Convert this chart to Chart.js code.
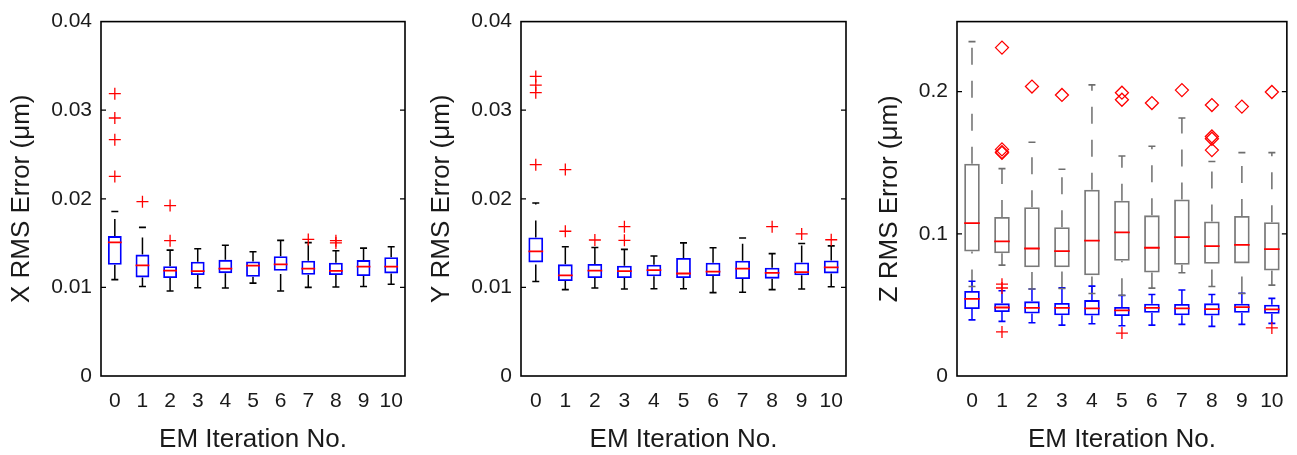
<!DOCTYPE html>
<html>
<head>
<meta charset="utf-8">
<script src="https://cdn.jsdelivr.net/npm/chart.js@4"></script>
<style>
  body { margin: 0; background: #fff; width: 1297px; height: 455px; position: relative; overflow: hidden; }
  canvas { position: absolute; top: 0; }
</style>
</head>
<body>
<canvas id="xChart" width="420" height="455" style="left:0px"></canvas>
<canvas id="yChart" width="438" height="455" style="left:422px"></canvas>
<canvas id="zChart" width="435" height="455" style="left:862px"></canvas>
<script>
// ==========================
// DATA
// ==========================

const iterations = ["0", "1", "2", "3", "4", "5", "6", "7", "8", "9", "10"];

// X RMS error
const xLow  = [0.01088, 0.01011, 0.0096, 0.00996, 0.00993, 0.01048, 0.0096, 0.0100, 0.01004, 0.01011, 0.01036];
const xQ1   = [0.01256, 0.01113, 0.01106, 0.01139, 0.01161, 0.01121, 0.01187, 0.01143, 0.01139, 0.01128, 0.01158];
const xMed  = [0.01509, 0.01249, 0.0119, 0.01183, 0.01212, 0.01245, 0.0126, 0.01212, 0.01187, 0.01234, 0.01234];
const xQ3   = [0.01579, 0.0137, 0.01238, 0.01289, 0.01311, 0.01293, 0.01352, 0.0130, 0.01278, 0.01308, 0.01341];
const xHigh = [0.01857, 0.01678, 0.01421, 0.01436, 0.01476, 0.01403, 0.01531, 0.01505, 0.01414, 0.01443, 0.01458];
const xOutliers = [[0.03187, 0.02912, 0.02667, 0.02253], [0.01967], [0.01923, 0.01527], [], [], [], [], [0.01542], [0.01527, 0.01502], [], []];

// Y RMS error
const yLow  = [0.01066, 0.00975, 0.00993, 0.00982, 0.00985, 0.00985, 0.00941, 0.00945, 0.00975, 0.00982, 0.01007];
const yQ1   = [0.01282, 0.01073, 0.01106, 0.01106, 0.01125, 0.01106, 0.01128, 0.01095, 0.01099, 0.01136, 0.01158];
const yMed  = [0.01407, 0.01136, 0.0119, 0.01183, 0.01194, 0.01157, 0.01179, 0.01212, 0.01165, 0.01172, 0.01227];
const yQ3   = [0.01564, 0.0126, 0.01264, 0.01245, 0.01256, 0.01333, 0.01278, 0.0130, 0.01223, 0.01282, 0.01304];
const yHigh = [0.01953, 0.01458, 0.0145, 0.01429, 0.01355, 0.01502, 0.01447, 0.01557, 0.01381, 0.01495, 0.01469];
const yOutliers = [[0.03381, 0.03282, 0.03198, 0.02385], [0.0233, 0.01634], [0.01535], [0.01685, 0.01531], [], [], [], [], [0.01685], [0.01604], [0.01538]];

// Z RMS error, grey boxes
const zGreyLow  = [0.063, 0.078, 0.0612, 0.0615, 0.058, 0.0568, 0.0618, 0.0726, 0.063, 0.058, 0.0639];
const zGreyQ1   = [0.0875, 0.0863, 0.0765, 0.0765, 0.0708, 0.081, 0.0728, 0.0783, 0.079, 0.0792, 0.0742];
const zGreyMed  = [0.1075, 0.0947, 0.0897, 0.0879, 0.0952, 0.1011, 0.0902, 0.0977, 0.0913, 0.0922, 0.0893];
const zGreyQ3   = [0.1493, 0.1119, 0.1187, 0.1046, 0.131, 0.1233, 0.113, 0.1242, 0.1087, 0.1125, 0.1082];
const zGreyHigh = [0.2352, 0.1459, 0.1644, 0.1454, 0.2048, 0.1548, 0.1616, 0.1815, 0.1509, 0.1571, 0.1571];
const zGreyOutliers = [[], [0.231, 0.1594, 0.1575, 0.157], [0.2036], [0.1977], [], [0.1993, 0.1943], [0.192], [0.2011], [0.1906, 0.1685, 0.1669, 0.1589], [0.1895], [0.1998]];

// Z RMS error, blue boxes
const zBlueLow  = [0.0395, 0.0384, 0.0375, 0.0358, 0.0368, 0.0354, 0.0358, 0.0363, 0.0349, 0.0363, 0.037];
const zBlueQ1   = [0.0471, 0.045, 0.044, 0.0427, 0.0425, 0.0422, 0.0445, 0.0427, 0.0425, 0.0445, 0.0438];
const zBlueMed  = [0.0543, 0.0482, 0.0479, 0.0479, 0.0475, 0.0461, 0.0479, 0.0475, 0.047, 0.0484, 0.0468];
const zBlueQ3   = [0.0598, 0.0511, 0.0525, 0.0514, 0.0534, 0.0486, 0.0509, 0.0507, 0.0511, 0.0509, 0.0502];
const zBlueHigh = [0.0667, 0.06, 0.0612, 0.0621, 0.0632, 0.0566, 0.0573, 0.0605, 0.0573, 0.0582, 0.0546];
const zBlueOutliers = [[], [0.0646, 0.0619, 0.031], [], [], [], [0.0302], [], [], [], [], [0.0338]];

// tick labels
const xyTicks = [0, 0.01, 0.02, 0.03, 0.04];
const xyTickLabels = ["0", "0.01", "0.02", "0.03", "0.04"];
const zTicks = [0, 0.1, 0.2];
const zTickLabels = ["0", "0.1", "0.2"];

// ==========================
// HELPERS
// ==========================

Chart.defaults.font.family = "'Liberation Sans', Arial, sans-serif";
Chart.defaults.color = "#1a1a1a";

function outlierPoints(list){
  const pts = [];
  list.forEach(function(vals, i){
    vals.forEach(function(v){ pts.push({ x: iterations[i], y: v }); });
  });
  return pts;
}

function halfBox(barPct){
  return function(ctx){
    const s = ctx.chart.scales.x;
    return s.width / iterations.length * barPct / 2;
  };
}

// dashed whiskers, drawn from the lower value towards the higher one
function whiskerPlugin(groups){
  return {
    id: "whiskers",
    beforeDatasetsDraw(chart){
      const ctx = chart.ctx;
      const xs = chart.scales.x, ys = chart.scales.y;
      ctx.save();
      ctx.lineWidth = 1.5;
      ctx.setLineDash([17, 16]);
      groups.forEach(function(g){
        ctx.strokeStyle = g.whiskerColor;
        for(let i = 0; i < iterations.length; i++){
          const x = xs.getPixelForValue(i);
          ctx.beginPath();
          ctx.moveTo(x, ys.getPixelForValue(g.low[i]));
          ctx.lineTo(x, ys.getPixelForValue(g.q1[i]));
          ctx.moveTo(x, ys.getPixelForValue(g.q3[i]));
          ctx.lineTo(x, ys.getPixelForValue(g.high[i]));
          ctx.stroke();
        }
      });
      ctx.restore();
    }
  };
}

// box frame and inward y ticks
const framePlugin = {
  id: "frame",
  afterDraw(chart){
    const ctx = chart.ctx;
    const a = chart.chartArea;
    const ys = chart.scales.y;
    ctx.save();
    ctx.strokeStyle = "#000";
    ctx.lineWidth = 1.6;
    ctx.strokeRect(a.left, a.top, a.right - a.left, a.bottom - a.top);
    ctx.lineWidth = 1.2;
    ys.ticks.forEach(function(t){
      const y = ys.getPixelForValue(t.value);
      if (y <= a.top + 1 || y >= a.bottom - 1) return;
      ctx.beginPath();
      ctx.moveTo(a.left, y); ctx.lineTo(a.left + 5, y);
      ctx.moveTo(a.right, y); ctx.lineTo(a.right - 5, y);
      ctx.stroke();
    });
    ctx.restore();
  }
};

function makePanel(id, cfg){
  const datasets = [];
  cfg.groups.forEach(function(g){
    datasets.push({
      type: "bar",
      data: g.q1.map(function(v, i){ return [v, g.q3[i]]; }),
      borderColor: g.boxColor,
      backgroundColor: "rgba(0,0,0,0)",
      borderWidth: 1.8,
      borderSkipped: false,
      barPercentage: cfg.barPct,
      categoryPercentage: 1,
      grouped: false,
      order: 3
    });
    datasets.push({
      type: "line",
      data: g.med,
      showLine: false,
      pointStyle: "line",
      pointRadius: halfBox(cfg.barPct),
      borderColor: "#ff0000",
      borderWidth: 1.8,
      order: 1
    });
    [g.low, g.high].forEach(function(arr){
      datasets.push({
        type: "line",
        data: arr,
        showLine: false,
        pointStyle: "line",
        pointRadius: 3.5,
        borderColor: g.whiskerColor,
        borderWidth: 1.6,
        order: 2
      });
    });
    datasets.push({
      type: "line",
      data: outlierPoints(g.outliers),
      showLine: false,
      pointStyle: g.outlierStyle,
      pointRadius: g.outlierStyle === "cross" ? 6 : 6.5,
      borderColor: "#ff0000",
      backgroundColor: "rgba(0,0,0,0)",
      borderWidth: 1.3,
      order: 0
    });
  });

  return new Chart(document.getElementById(id), {
    type: "bar",
    data: { labels: iterations, datasets: datasets },
    options: {
      responsive: false,
      animation: false,
      layout: { padding: { top: 12, right: cfg.padRight, left: 0, bottom: 0 } },
      plugins: { legend: { display: false }, tooltip: { enabled: false } },
      scales: {
        x: {
          offset: true,
          grid: { display: false, drawTicks: false },
          border: { display: false },
          ticks: { font: { size: 21 }, padding: 13, maxRotation: 0, autoSkip: false },
          title: { display: true, text: "EM Iteration No.", font: { size: 26 }, padding: { top: 0, bottom: 0 } },
          afterFit: function(s){ s.height = 79; }
        },
        y: {
          min: 0,
          max: cfg.yMax,
          grid: { display: false, drawTicks: false },
          border: { display: false },
          afterBuildTicks: function(s){ s.ticks = cfg.ticks.map(function(v){ return { value: v }; }); },
          ticks: {
            font: { size: 21 },
            padding: 9,
            callback: function(v, i){ return cfg.tickLabels[i]; }
          },
          title: { display: true, text: cfg.title, font: { size: 26 }, padding: { top: cfg.titlePad, bottom: 0 } },
          afterFit: function(s){ s.width = cfg.yAxisWidth; }
        }
      }
    },
    plugins: [whiskerPlugin(cfg.groups), framePlugin]
  });
}

// ==========================
// CHARTS
// ==========================

makePanel("xChart", {
  title: "X RMS Error (\u03bcm)", yMax: 0.04, ticks: xyTicks, tickLabels: xyTickLabels,
  yAxisWidth: 101, padRight: 15, titlePad: 6, barPct: 0.5,
  groups: [{ low: xLow, q1: xQ1, med: xMed, q3: xQ3, high: xHigh, outliers: xOutliers,
             boxColor: "#0000ff", whiskerColor: "#000000", outlierStyle: "cross" }]
});

makePanel("yChart", {
  title: "Y RMS Error (\u03bcm)", yMax: 0.04, ticks: xyTicks, tickLabels: xyTickLabels,
  yAxisWidth: 99, padRight: 14, titlePad: 4, barPct: 0.5,
  groups: [{ low: yLow, q1: yQ1, med: yMed, q3: yQ3, high: yHigh, outliers: yOutliers,
             boxColor: "#0000ff", whiskerColor: "#000000", outlierStyle: "cross" }]
});

makePanel("zChart", {
  title: "Z RMS Error (\u03bcm)", yMax: 0.2493, ticks: zTicks, tickLabels: zTickLabels,
  yAxisWidth: 95, padRight: 10, titlePad: 12, barPct: 0.52,
  groups: [
    { low: zGreyLow, q1: zGreyQ1, med: zGreyMed, q3: zGreyQ3, high: zGreyHigh, outliers: zGreyOutliers,
      boxColor: "#7a7a7a", whiskerColor: "#6e6e6e", outlierStyle: "rectRot" },
    { low: zBlueLow, q1: zBlueQ1, med: zBlueMed, q3: zBlueQ3, high: zBlueHigh, outliers: zBlueOutliers,
      boxColor: "#0000ff", whiskerColor: "#0000ff", outlierStyle: "cross" }
  ]
});
</script>
</body>
</html>
